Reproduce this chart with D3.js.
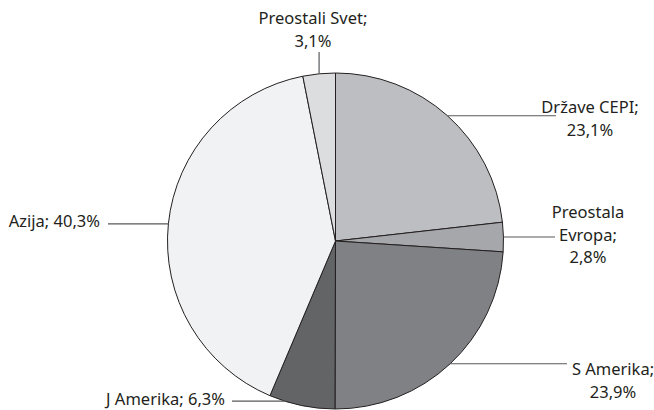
<!DOCTYPE html>
<html>
<head>
<meta charset="utf-8">
<script src="https://cdn.jsdelivr.net/npm/d3@7"></script>
<style>
  html, body { margin: 0; padding: 0; background: #fff; }
  svg { display: block; }
  text { font-family: "Noto Sans", "Open Sans", sans-serif; font-size: 16.5px; fill: #231f20; }
</style>
</head>
<body>
<svg id="chart" width="654" height="410"></svg>
<script>
// Share of production by region (%), clockwise from 12 o'clock
const regions = ["Države CEPI", "Preostala Evropa", "S Amerika", "J Amerika", "Azija", "Preostali Svet"];
const shares = [23.1, 2.8, 23.9, 6.3, 40.3, 3.1];
const shareLabels = ["23,1%", "2,8%", "23,9%", "6,3%", "40,3%", "3,1%"];
const fills = ["#bdbec1", "#a6a7aa", "#808184", "#636466", "#f1f2f4", "#dcdddf"];

// Label placement: text lines, anchor point, leader end
const labelLayout = [
  { lines: ["Države CEPI;", "23,1%"], x: 590, y: 113, anchor: "middle", lineTo: 556, dir: "h" },
  { lines: ["Preostala", "Evropa;", "2,8%"], x: 588, y: 218, anchor: "middle", lineTo: 555, dir: "h" },
  { lines: ["S Amerika;", "23,9%"], x: 613, y: 375, anchor: "middle", lineTo: 567, dir: "h" },
  { lines: ["J Amerika; 6,3%"], x: 225, y: 404.5, anchor: "end", lineTo: 232, dir: "h", nudge: 6 },
  { lines: ["Azija; 40,3%"], x: 100, y: 227, anchor: "end", lineTo: 108, dir: "h" },
  { lines: ["Preostali Svet;", "3,1%"], x: 313, y: 24, anchor: "middle", lineTo: 52, dir: "v" }
];

const cx = 335.5, cy = 241, radius = 168;
const lineGap = 22.5;

const svg = d3.select("#chart");
const g = svg.append("g").attr("transform", `translate(${cx},${cy})`);

const pie = d3.pie().sort(null).value(d => d.value);
const arc = d3.arc().innerRadius(0).outerRadius(radius);

const data = regions.map((name, i) => ({ name, value: shares[i], label: shareLabels[i], fill: fills[i], layout: labelLayout[i] }));
const arcs = pie(data);

g.selectAll("path.slice")
  .data(arcs)
  .join("path")
  .attr("class", "slice")
  .attr("d", arc)
  .attr("fill", d => d.data.fill)
  .attr("stroke", "#231f20")
  .attr("stroke-width", 1);

// Leader lines from slice edge to the label
const leaders = svg.append("g");
arcs.forEach(a => {
  const L = a.data.layout;
  const ang = (a.startAngle + a.endAngle) / 2 + (L.nudge || 0) * Math.PI / 180;
  const px = cx + radius * Math.sin(ang);
  const py = cy - radius * Math.cos(ang);
  let x2, y2;
  if (L.dir === "h") { x2 = L.lineTo; y2 = py; }
  else { x2 = px; y2 = L.lineTo; }
  leaders.append("line")
    .attr("x1", px).attr("y1", py)
    .attr("x2", x2).attr("y2", y2)
    .attr("stroke", "#58595b")
    .attr("stroke-width", 1.2);
});

// Labels
const labels = svg.append("g");
arcs.forEach(a => {
  const L = a.data.layout;
  const t = labels.append("text")
    .attr("text-anchor", L.anchor);
  L.lines.forEach((ln, k) => {
    t.append("tspan").attr("x", L.x).attr("y", L.y + k * lineGap).text(ln);
  });
});
</script>
</body>
</html>
